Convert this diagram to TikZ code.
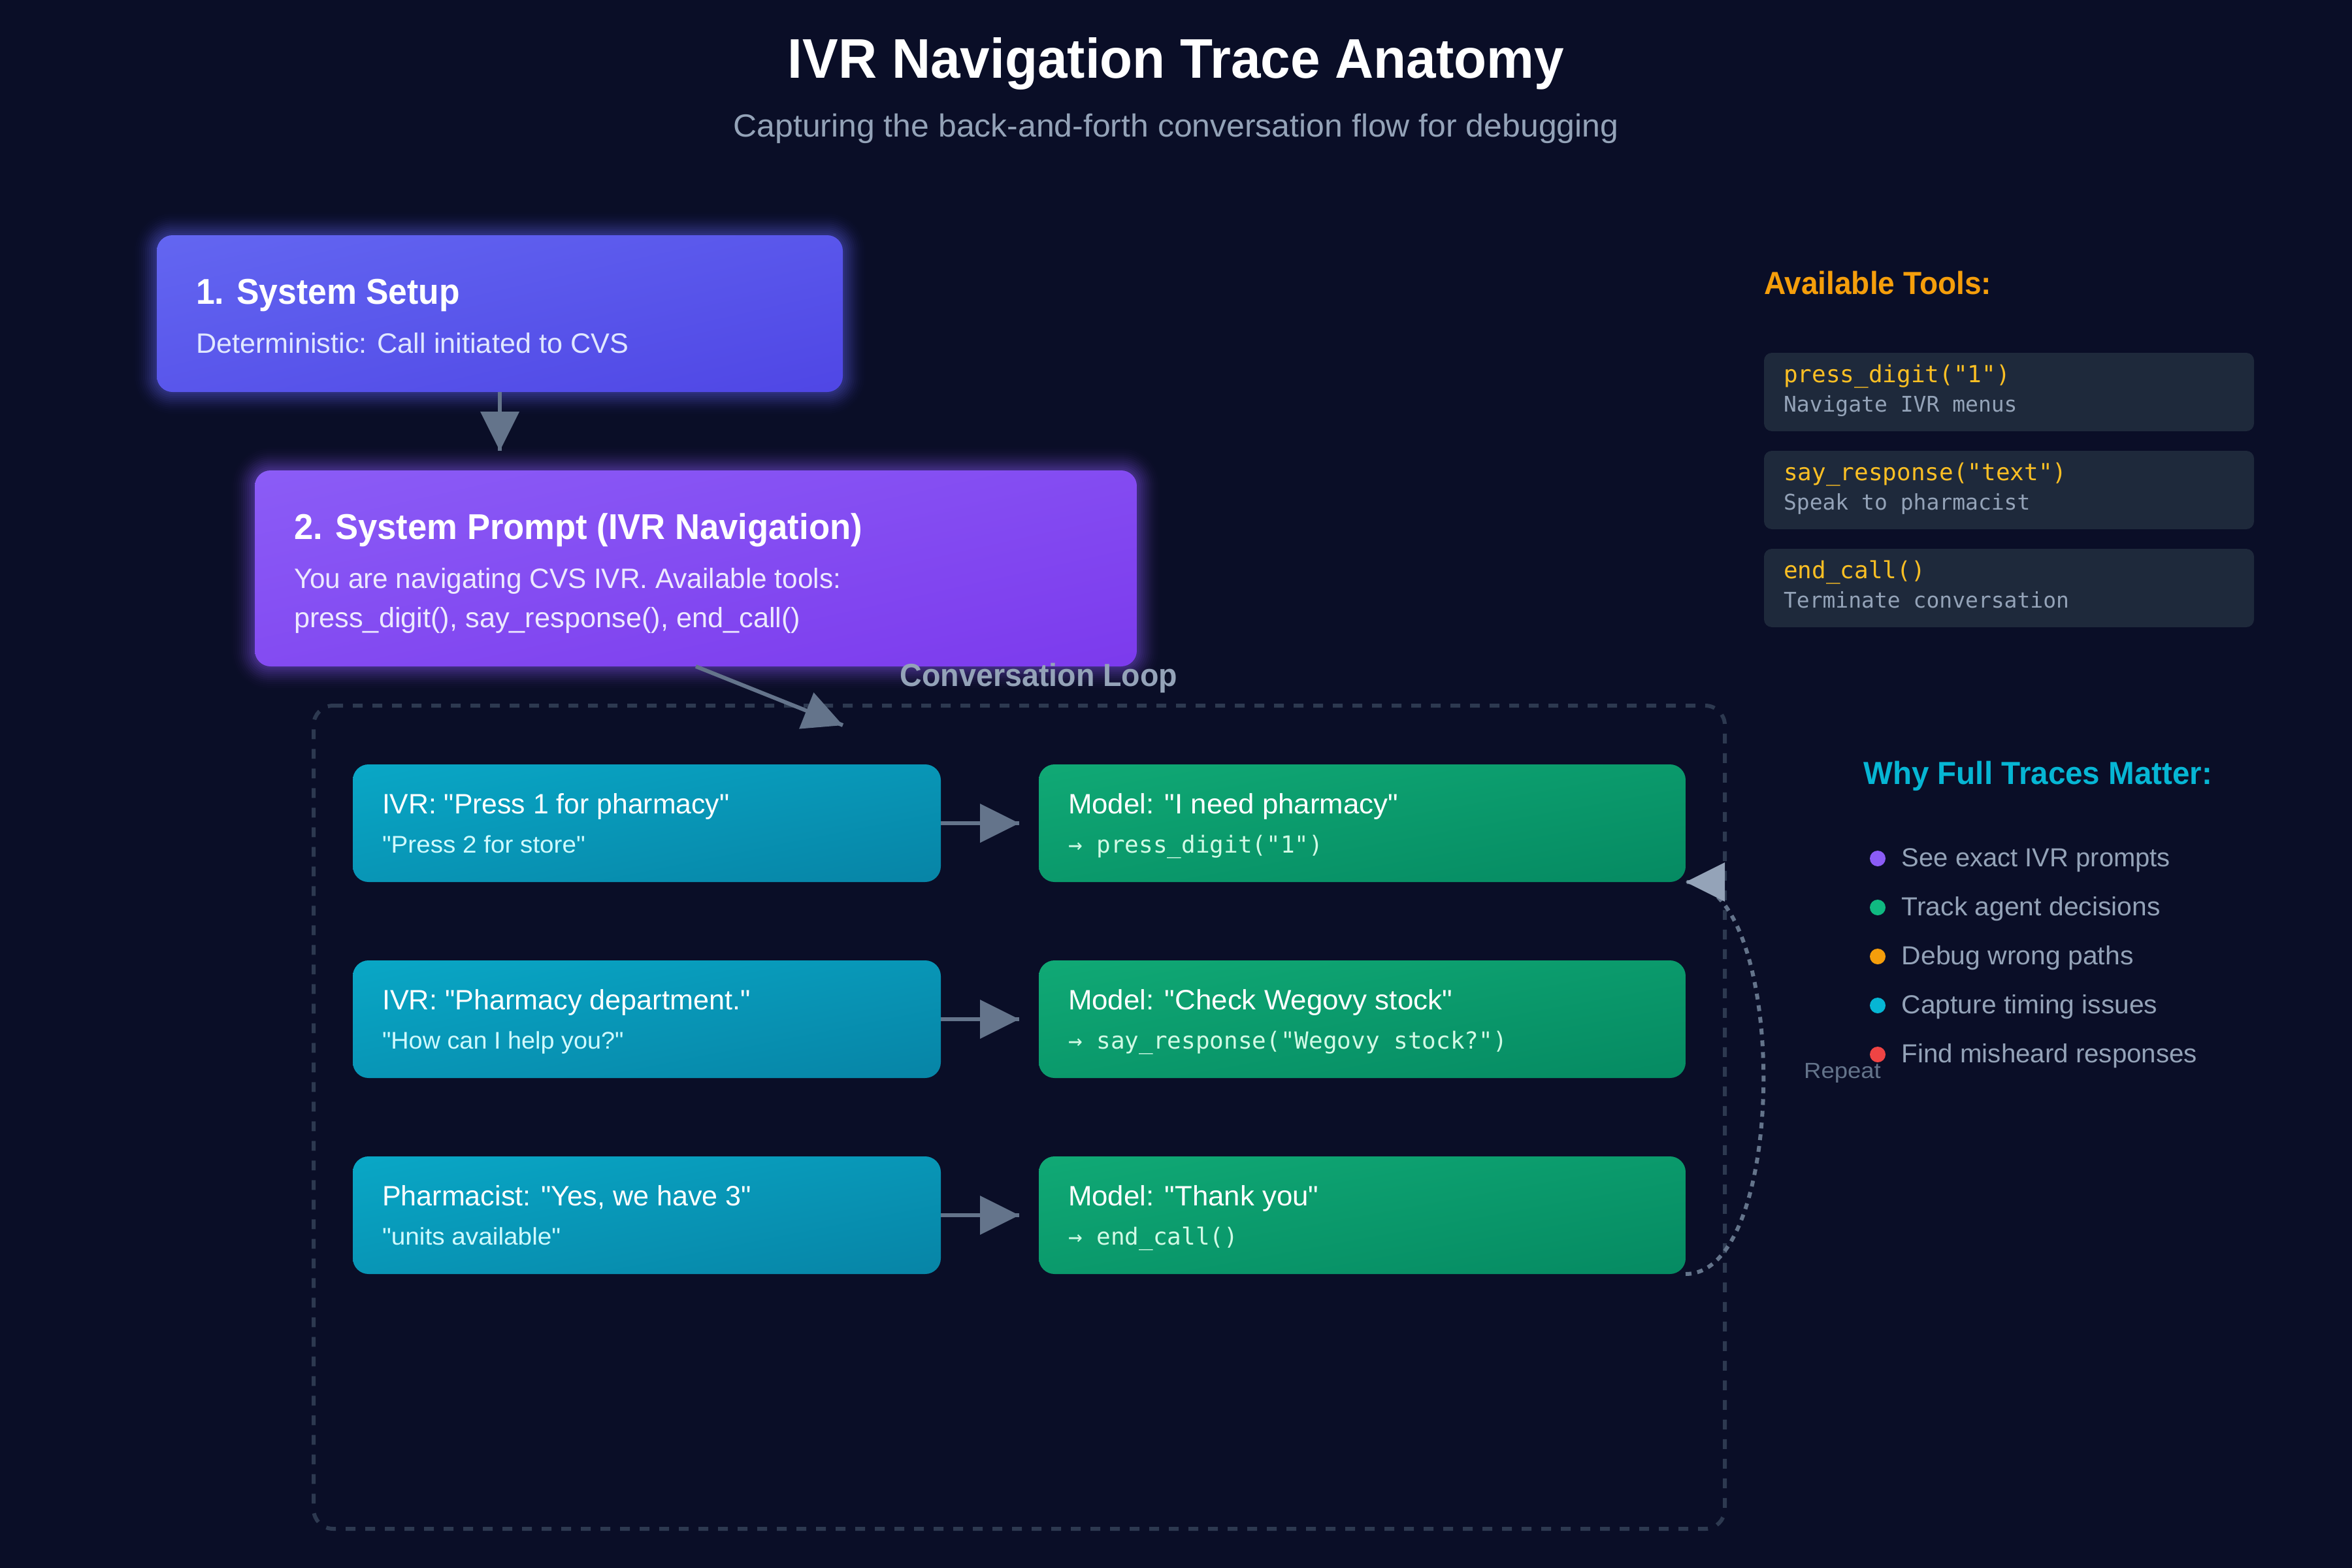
\documentclass[tikz,border=0pt]{standalone}
\usepackage{graphicx}
\usepackage{fontspec}
\setmainfont{Liberation Sans}[Ligatures=TeXOff]
\newfontfamily\codefont{DejaVu Sans Mono}[Ligatures=TeXOff]
\usetikzlibrary{arrows.meta,calc}
\definecolor{bgc}{HTML}{0A0E27}
\definecolor{aone}{HTML}{6366F1}
\definecolor{bone}{HTML}{8B5CF6}
\definecolor{slatea}{HTML}{94A3B8}\definecolor{slateb}{HTML}{64748B}\definecolor{slatec}{HTML}{2D3950}
\definecolor{toolbg}{HTML}{1E293B}\definecolor{codec}{HTML}{FBBF24}
\definecolor{amberc}{HTML}{F59E0B}\definecolor{cyanc}{HTML}{06B6D4}
\definecolor{violetc}{HTML}{8B5CF6}\definecolor{greenc}{HTML}{10B981}\definecolor{redc}{HTML}{EF4444}
\definecolor{subA}{HTML}{E0E7FF}\definecolor{subB}{HTML}{EDE9FE}\definecolor{subC}{HTML}{CFFAFE}\definecolor{subD}{HTML}{D1FAE5}
% diagonal gradient of the box's own bounding box: g=(x-y+50)/100 on the 25..75bp square
\newcommand{\diaggrad}[7]{\pgfdeclarefunctionalshading{#1}{\pgfpoint{0bp}{0bp}}{\pgfpoint{100bp}{100bp}}{}{sub 50 add 100 div dup #5 mul #2 add exch dup #6 mul #3 add exch #7 mul #4 add}}
\diaggrad{gradA}{0.388}{0.400}{0.945}{-0.078}{-0.125}{-0.047}
\diaggrad{gradB}{0.545}{0.361}{0.965}{-0.059}{-0.133}{-0.036}
\diaggrad{gradC}{0.035}{0.655}{0.776}{-0.008}{-0.137}{-0.125}
\diaggrad{gradD}{0.063}{0.663}{0.459}{-0.043}{-0.122}{-0.075}
\newcommand{\fitw}[2]{\resizebox{#1pt}{\height}{#2}}
\tikzset{
  x=1pt,y=-1pt,
  boxnode/.style={rectangle,rounded corners=8pt,inner sep=0pt,outer sep=0pt,draw=none},
  txt/.style={anchor=base west,inner sep=0pt,outer sep=0pt},
  ctxt/.style={anchor=base,inner sep=0pt,outer sep=0pt},
  conn/.style={draw=slateb,line width=2pt},
  headtip/.style={-{Triangle[length=20pt,width=20pt,fill=#1,color=#1,line width=0pt]},draw=#1,line width=0.01pt},
  toolbox/.style={rectangle,rounded corners=4pt,fill=toolbg,minimum width=250pt,minimum height=40pt,inner sep=0pt,outer sep=0pt},
  dotn/.style={circle,minimum size=8pt,inner sep=0pt,outer sep=0pt,fill=#1},
}
\begin{document}
\begin{tikzpicture}
\useasboundingbox (0,0) rectangle (1200,800);
\fill[bgc] (0,0) rectangle (1200,800);
% title
\node[ctxt,text=white,font=\fontsize{28.5}{30}\selectfont\bfseries] (title) at (600,40) {\fitw{396}{IVR Navigation Trace Anatomy}};
\node[ctxt,text=slatea,font=\fontsize{16.3}{18}\selectfont] (subtitle) at (600,70) {\fitw{451.6}{Capturing the back-and-forth conversation flow for debugging}};
% glow
\foreach \r [evaluate=\r as \o using {0.007*(13-\r)}] in {12,11,...,1}{
  \fill[aone,opacity=\o,rounded corners={(8+\r)*1pt}] (80-\r,120-\r) rectangle (430+\r,200+\r);
  \fill[bone,opacity=\o,rounded corners={(8+\r)*1pt}] (130-\r,240-\r) rectangle (580+\r,340+\r);
}
% boxes
\node[boxnode,shading=gradA,minimum width=350pt,minimum height=80pt] (b1) at (255,160) {};
\node[txt,text=white,font=\fontsize{18.3}{20}\selectfont\bfseries] (b1t) at (100,155) {\fitw{134.7}{1. System Setup}};
\node[txt,text=subA,font=\fontsize{14.3}{16}\selectfont] (b1s) at (100,180) {\fitw{220.7}{Deterministic: Call initiated to CVS}};
\node[boxnode,shading=gradB,minimum width=450pt,minimum height=100pt] (b2) at (355,290) {};
\node[txt,text=white,font=\fontsize{18.3}{20}\selectfont\bfseries] (b2t) at (150,275) {\fitw{290}{2. System Prompt (IVR Navigation)}};
\node[txt,text=subB,font=\fontsize{14.3}{16}\selectfont] (b2s) at (150,300) {\fitw{279}{You are navigating CVS IVR. Available tools:}};
\node[txt,text=subB,font=\fontsize{14.3}{16}\selectfont] (b2u) at (150,320) {\fitw{258.5}{press\_digit(), say\_response(), end\_call()}};
% loop
\draw[slatec,line width=2pt,dash pattern=on 5pt off 5pt] (170,360) -- (870,360) arc[start angle=-90,end angle=0,radius=10] -- (880,770) arc[start angle=0,end angle=90,radius=10] -- (170,780) arc[start angle=90,end angle=180,radius=10] -- (160,370) arc[start angle=180,end angle=270,radius=10] -- cycle;
\node[ctxt,text=slatea,font=\fontsize{16.3}{18}\selectfont\bfseries] (looplabel) at (530,350) {\fitw{141.6}{Conversation Loop}};
% rows
\foreach \n/\y in {1/420,2/520,3/620}{
  \node[boxnode,shading=gradC,minimum width=300pt,minimum height=60pt] (i\n) at (330,\y) {};
  \node[boxnode,shading=gradD,minimum width=330pt,minimum height=60pt] (m\n) at (695,\y) {};
  \coordinate (e\n) at (520,\y);
}
\node[txt,text=white,font=\fontsize{14.3}{16}\selectfont] (i1t) at (195,415) {\fitw{177.1}{IVR: "Press 1 for pharmacy"}};
\node[txt,text=subC,font=\fontsize{12.3}{14}\selectfont] (i1s) at (195,435) {\fitw{103.6}{"Press 2 for store"}};
\node[txt,text=white,font=\fontsize{14.3}{16}\selectfont] (i2t) at (195,515) {\fitw{187.9}{IVR: "Pharmacy department."}};
\node[txt,text=subC,font=\fontsize{12.3}{14}\selectfont] (i2s) at (195,535) {\fitw{123.2}{"How can I help you?"}};
\node[txt,text=white,font=\fontsize{14.3}{16}\selectfont] (i3t) at (195,615) {\fitw{188.3}{Pharmacist: "Yes, we have 3"}};
\node[txt,text=subC,font=\fontsize{12.3}{14}\selectfont] (i3s) at (195,635) {\fitw{91.1}{"units available"}};
\node[txt,text=white,font=\fontsize{14.3}{16}\selectfont] (m1t) at (545,415) {\fitw{168.4}{Model: "I need pharmacy"}};
\node[txt,text=subD,font=\fontsize{12}{14}\selectfont\codefont] (m1s) at (545,435) {→ press\_digit("1")};
\node[txt,text=white,font=\fontsize{14.3}{16}\selectfont] (m2t) at (545,515) {\fitw{196}{Model: "Check Wegovy stock"}};
\node[txt,text=subD,font=\fontsize{12}{14}\selectfont\codefont] (m2s) at (545,535) {→ say\_response("Wegovy stock?")};
\node[txt,text=white,font=\fontsize{14.3}{16}\selectfont] (m3t) at (545,615) {\fitw{127.8}{Model: "Thank you"}};
\node[txt,text=subD,font=\fontsize{12}{14}\selectfont\codefont] (m3s) at (545,635) {→ end\_call()};
% connectors
\coordinate (e12) at (255,230);
\coordinate (e2l) at (430,370);
\draw[conn] (b1.south) -- (e12);
\draw[headtip=slateb] (b1.south) -- (e12);
\draw[conn] (b2.south) -- (e2l);
\draw[headtip=slateb] (b2.south) -- (e2l);
\foreach \n in {1,2,3}{
  \draw[conn] (i\n.east) -- (e\n);
  \draw[headtip=slateb] (i\n.east) -- (e\n);
}
\draw[conn,dash pattern=on 3pt off 3pt] (m3.south east) .. controls (913,650) and (913,450) .. (m1.south east);
\draw[headtip=slatea] ($(m1.south east)+(20,0)$) -- (m1.south east);
\node[txt,text=slateb,font=\fontsize{11.2}{13}\selectfont] (repeat) at (920.4,550) {\fitw{39.2}{Repeat}};
% tools
\node[txt,text=amberc,font=\fontsize{16.3}{18}\selectfont\bfseries] (toolhead) at (900,150) {\fitw{116}{Available Tools:}};
\node[toolbox] (t1) at (1025,200) {};
\node[toolbox] (t2) at (1025,250) {};
\node[toolbox] (t3) at (1025,300) {};
\node[txt,text=codec,font=\fontsize{12}{14}\selectfont\codefont] (t1c) at (910,195) {press\_digit("1")};
\node[txt,text=slatea,font=\fontsize{11}{13}\selectfont\codefont] (t1d) at (910,210) {Navigate IVR menus};
\node[txt,text=codec,font=\fontsize{12}{14}\selectfont\codefont] (t2c) at (910,245) {say\_response("text")};
\node[txt,text=slatea,font=\fontsize{11}{13}\selectfont\codefont] (t2d) at (910,260) {Speak to pharmacist};
\node[txt,text=codec,font=\fontsize{12}{14}\selectfont\codefont] (t3c) at (910,295) {end\_call()};
\node[txt,text=slatea,font=\fontsize{11}{13}\selectfont\codefont] (t3d) at (910,310) {Terminate conversation};
% why
\node[txt,text=cyanc,font=\fontsize{16.3}{18}\selectfont\bfseries] (whyhead) at (950.7,400) {\fitw{178}{Why Full Traces Matter:}};
\node[dotn=violetc] (d1) at (958,438) {};
\node[dotn=greenc] (d2) at (958,463) {};
\node[dotn=amberc] (d3) at (958,488) {};
\node[dotn=cyanc] (d4) at (958,513) {};
\node[dotn=redc] (d5) at (958,538) {};
\node[txt,text=slatea,font=\fontsize{13.3}{15}\selectfont] (w1) at (970.3,442) {\fitw{137}{See exact IVR prompts}};
\node[txt,text=slatea,font=\fontsize{13.3}{15}\selectfont] (w2) at (970.3,467) {\fitw{131.9}{Track agent decisions}};
\node[txt,text=slatea,font=\fontsize{13.3}{15}\selectfont] (w3) at (970.3,492) {\fitw{118.2}{Debug wrong paths}};
\node[txt,text=slatea,font=\fontsize{13.3}{15}\selectfont] (w4) at (970.3,517) {\fitw{130.5}{Capture timing issues}};
\node[txt,text=slatea,font=\fontsize{13.3}{15}\selectfont] (w5) at (970.3,542) {\fitw{150.7}{Find misheard responses}};
\end{tikzpicture}
\end{document}
